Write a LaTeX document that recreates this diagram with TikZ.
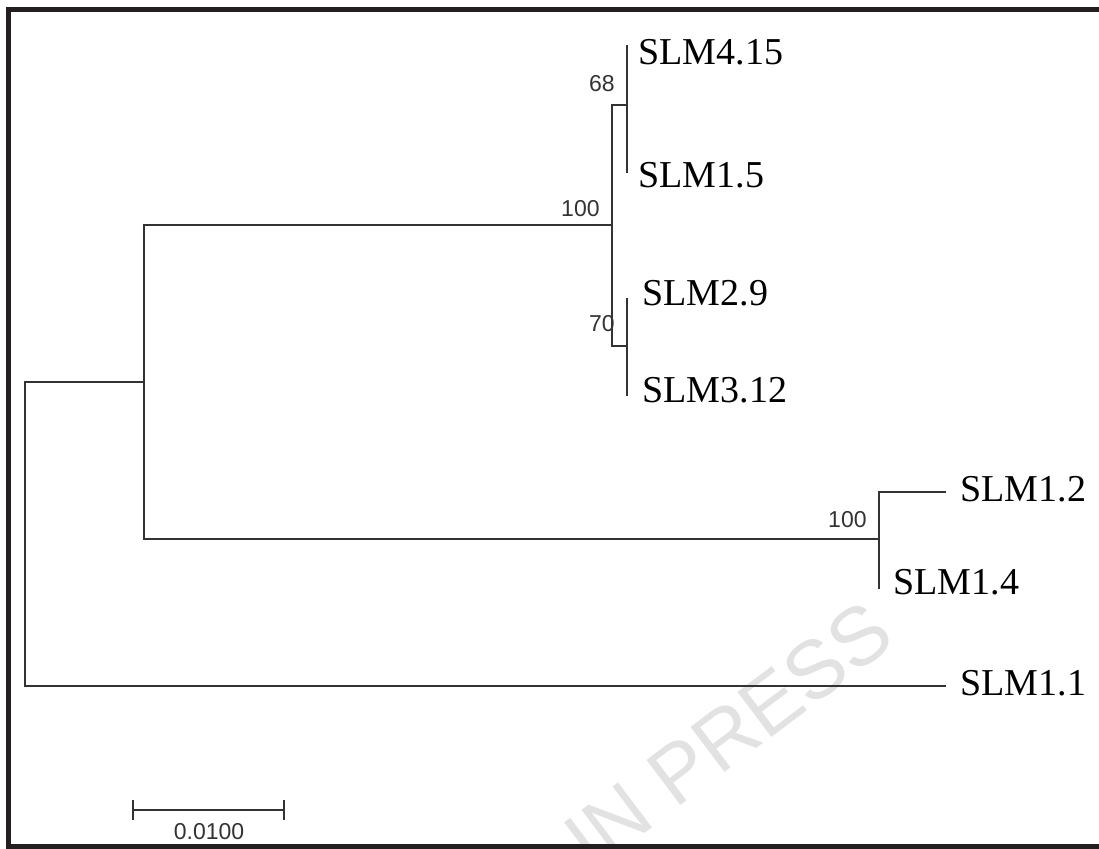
\documentclass[tikz,border=0pt]{standalone}
\usepackage{fontspec}
\usepackage{tikz}
\usetikzlibrary{positioning,arrows.meta,calc}
\newfontfamily\leaffont{Liberation Serif}
\newfontfamily\bootfont{Liberation Sans}
\definecolor{cLine}{HTML}{333333}
\definecolor{cFrame}{HTML}{231F20}
\definecolor{cStamp}{HTML}{E2E2E2}
\tikzset{
	leaf/.style={anchor=west, inner sep=0pt, font=\leaffont\fontsize{19}{19}\selectfont},
	boot/.style={anchor=east, inner sep=0pt, font=\bootfont\fontsize{11.5}{11.5}\selectfont, text=cLine},
	branch/.style={line width=1pt, color=cLine},
	frame/.style={line width=2.5pt, color=cFrame},
	stamp/.style={inner sep=0pt, rotate=37, text=cStamp, font=\bootfont\fontsize{41}{41}\selectfont},
	scalebar/.style={line width=1pt, color=cLine, {Bar[width=10pt,line width=1pt]}-{Bar[width=10pt,line width=1pt]}},
}
\begin{document}
\begin{tikzpicture}[x=0.5pt, y=-0.5pt]
				\useasboundingbox (0,0) rectangle (1099,848);
				\begin{scope}
					\clip (0,0) rectangle (1099,848);
					\node[stamp] (wm) at (728,735) {IN PRESS};
				\end{scope}
				\draw[frame] (1099,9) -| (8.5,846) -- (1099,846);
				% inner nodes of the tree
				\coordinate (r) at (25,534);
				\coordinate (nA) at (144,382);
				\coordinate (nB) at (612,225);
				\coordinate (nC) at (627,105);
				\coordinate (nD) at (627,346);
				\coordinate (nE) at (879,539);
				% leaf tips
				\coordinate (t415) at (627,45);
				\coordinate (t15) at (627,173);
				\coordinate (t29) at (627,298);
				\coordinate (t312) at (627,396);
				\coordinate (t12) at (946,492);
				\coordinate (t14) at (879,589);
				\coordinate (t11) at (946,686);
				\foreach \a/\b in {r/nA,r/t11,nA/nB,nA/nE,nB/nC,nB/nD,nC/t415,nC/t15,nD/t29,nD/t312,nE/t12,nE/t14} \draw[branch] (\a) |- (\b);
				\node[leaf] (s415) at (638,52) {SLM4.15};
				\node[leaf] (s15) at (638,175) {SLM1.5};
				\node[leaf] (s29) at (642,293) {SLM2.9};
				\node[leaf] (s312) at (642,390) {SLM3.12};
				\node[leaf] (s12) at (960,489) {SLM1.2};
				\node[leaf] (s14) at (893,582) {SLM1.4};
				\node[leaf] (s11) at (960,683) {SLM1.1};
				\node[boot] (b68) at (615,84) {68};
				\node[boot] (b100a) at (600,209) {100};
				\node[boot] (b70) at (615,324) {70};
				\node[boot] (b100b) at (867,520) {100};
				% scale bar
				\coordinate (sbL) at (132,810);
				\coordinate (sbR) at (285,810);
				\draw[scalebar] (sbL) -- (sbR);
				\node[boot, anchor=center] (sbT) at (209,832) {0.0100};
		\end{tikzpicture}
\end{document}
